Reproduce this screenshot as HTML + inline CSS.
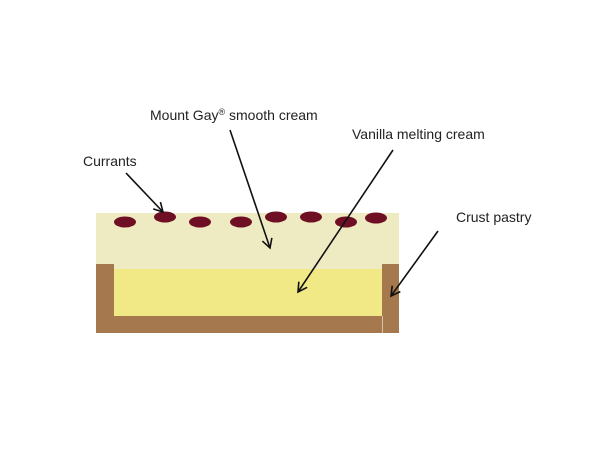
<!DOCTYPE html>
<html><head><style>body{margin:0;background:#fff}svg{display:block}</style></head><body>
<svg width="600" height="452" viewBox="0 0 600 452" xmlns="http://www.w3.org/2000/svg">
<defs><marker id="a" markerWidth="12" markerHeight="12" refX="10" refY="6" orient="auto" markerUnits="userSpaceOnUse"><path d="M1,1 L10,6 L1,11" fill="none" stroke="#111" stroke-width="1.6"/></marker></defs>
<rect x="96" y="213" width="303" height="120" fill="#eeebc3"/>
<rect x="96" y="264" width="18" height="69" fill="#a5794d"/>
<rect x="382" y="264" width="17" height="69" fill="#a5794d"/>
<rect x="96" y="316" width="303" height="17" fill="#a5794d"/>
<line x1="382.5" y1="316" x2="382.5" y2="333" stroke="#d9c3a4" stroke-width="1"/>
<rect x="114" y="269" width="268" height="47" fill="#f1e985"/>
<g fill="#6e0f24">
<ellipse cx="125" cy="222" rx="11" ry="5.5"/><ellipse cx="165" cy="217" rx="11" ry="5.5"/>
<ellipse cx="200" cy="222" rx="11" ry="5.5"/><ellipse cx="241" cy="222" rx="11" ry="5.5"/>
<ellipse cx="276" cy="217" rx="11" ry="5.5"/><ellipse cx="311" cy="217" rx="11" ry="5.5"/>
<ellipse cx="346" cy="222" rx="11" ry="5.5"/><ellipse cx="376" cy="218" rx="11" ry="5.5"/>
</g>
<g stroke="#111" stroke-width="1.6" marker-end="url(#a)">
<line x1="126" y1="173" x2="163" y2="212"/>
<line x1="230" y1="130" x2="270" y2="248"/>
<line x1="393" y1="150" x2="298" y2="292"/>
<line x1="438" y1="231" x2="391" y2="296"/>
</g>
<g font-family="Liberation Sans, sans-serif" font-size="14" fill="#222">
<text x="83" y="166">Currants</text>
<text x="150" y="120">Mount Gay<tspan font-size="9" dy="-5">®</tspan><tspan dy="5"> smooth cream</tspan></text>
<text x="352" y="139">Vanilla melting cream</text>
<text x="456" y="222">Crust pastry</text>
</g>
</svg>
</body></html>
